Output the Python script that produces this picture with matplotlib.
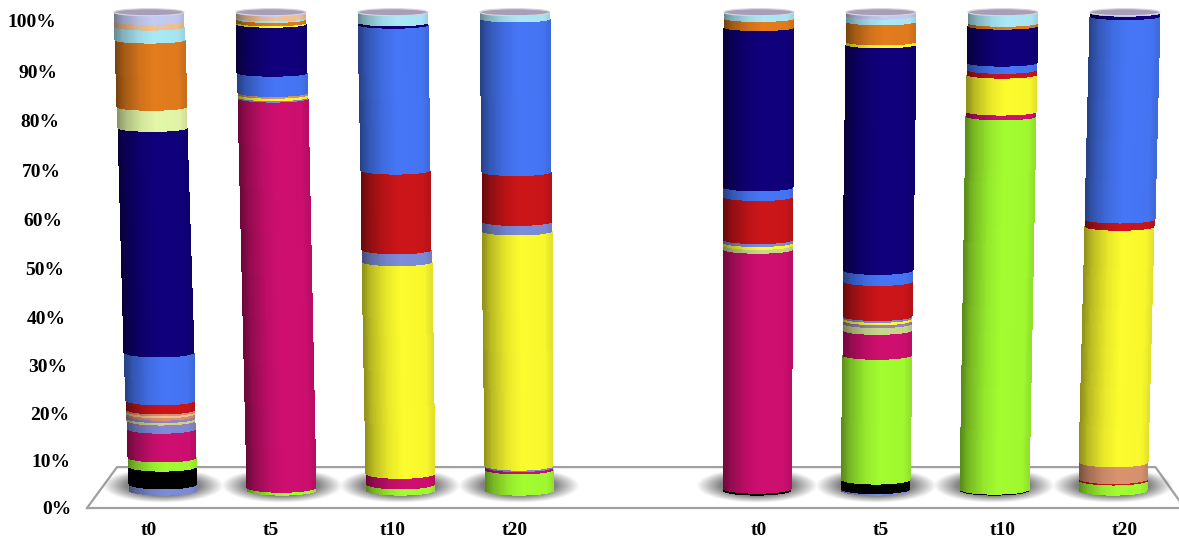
import numpy as np
import matplotlib
matplotlib.use('Agg')
import matplotlib.pyplot as plt
from matplotlib.colors import to_rgb
from matplotlib.patches import Ellipse
from matplotlib.transforms import Affine2D

# palette of the stacked layers
navy = '#10007c'
blue = '#4676f6'
red = '#cc1519'
yellow = '#fbfb2e'
magenta = '#cf0f70'
green = '#a2fc30'
orange = '#e27c1d'
pale = '#e4f6a8'
sky = '#aae8f6'
peach = '#f0c294'
lavender = '#c3cbf2'
peri = '#7d8cd9'
black = '#000000'
tan = '#d8936f'
purple = '#9a82c2'
olive = '#c9d98a'

positions = [0, 1, 2, 3, 5, 6, 7, 8]
bar_labels = ['t0', 't5', 't10', 't20', 't0', 't5', 't10', 't20']
y_ticks = [0, 10, 20, 30, 40, 50, 60, 70, 80, 90, 100]

# values in percent, bottom to top
a_t0_vals = [1.3, 3.7, 1.9, 6.0, 1.2, 0.5, 0.5, 0.5, 0.5, 0.4, 0.4, 1.9, 10.0, 47.0, 4.4, 14.0, 2.7, 1.2, 1.9]
a_t0_cols = [peri, black, green, magenta, peri, purple, olive, purple, tan, peach, tan, red, blue, navy, pale, orange, sky, peach, lavender]
a_t5_vals = [0.6, 81.3, 0.3, 0.5, 0.4, 4.2, 10.2, 0.3, 0.7, 0.3, 1.0, 0.2]
a_t5_cols = [green, magenta, peri, yellow, tan, blue, navy, yellow, orange, sky, peach, lavender]
a_t10_vals = [1.3, 2.2, 44.3, 2.5, 16.6, 30.4, 0.5, 2.2]
a_t10_cols = [green, magenta, yellow, peri, red, blue, navy, sky]
a_t20_vals = [4.4, 0.5, 0.3, 49.0, 2.0, 10.4, 32.0, 1.4]
a_t20_cols = [green, magenta, peri, yellow, peri, red, blue, sky]
b_t0_vals = [0.4, 50.0, 0.8, 0.6, 0.6, 9.0, 2.0, 33.4, 1.9, 1.3]
b_t0_cols = [black, magenta, olive, yellow, peri, red, blue, navy, orange, sky]
b_t5_vals = [0.3, 2.0, 26.0, 5.2, 1.4, 0.6, 0.5, 0.4, 7.3, 2.3, 47.2, 0.6, 4.2, 1.2, 0.8]
b_t5_cols = [peri, black, green, magenta, olive, purple, yellow, peri, red, blue, navy, yellow, orange, sky, lavender]
b_t10_vals = [0.2, 78.0, 1.0, 7.7, 1.0, 1.5, 7.7, 0.6, 2.3]
b_t10_cols = [black, green, magenta, yellow, red, blue, navy, orange, sky]
b_t20_vals = [2.1, 0.3, 3.5, 49.3, 1.5, 42.4, 0.7, 0.2]
b_t20_cols = [green, red, tan, yellow, red, blue, navy, lavender]

all_vals = [a_t0_vals, a_t5_vals, a_t10_vals, a_t20_vals, b_t0_vals, b_t5_vals, b_t10_vals, b_t20_vals]
all_cols = [a_t0_cols, a_t5_cols, a_t10_cols, a_t20_cols, b_t0_cols, b_t5_cols, b_t10_cols, b_t20_cols]

plt.rcParams['font.family'] = ['Liberation Serif', 'DejaVu Serif']

fig = plt.figure(figsize=(11.79, 5.39), dpi=100)
ax = fig.add_axes([87 / 1179, 1 - 508 / 539, 1092 / 1179, 506.5 / 539])

# fake 3d look: bars stand on a floor, lean to a vanishing point
base = 3.6
scale = 0.982
vanish = 4.35
lean = 0.0265
bar_w = 0.574
sag_bot = 1.05
sag_top = 0.72

u = np.linspace(-1, 1, 81)
um = (u[1:] + u[:-1]) / 2
shade = np.interp(um, [-1, -0.75, -0.3, 0.1, 0.8, 1], [0.42, 0.66, 0.9, 1.0, 0.98, 0.86])


def level(p, v):
    f = v / 100.0
    cx = p + (1 - f) * lean * (vanish - p)
    w = bar_w * (0.98 + 0.02 * f)
    y = base + v * scale
    sag = sag_bot + (sag_top - sag_bot) * f
    return cx + u * w / 2, y - sag * np.sqrt(1 - u ** 2)


def draw_bar(p, vals, cols):
    tops = np.cumsum(vals)
    bots = tops - np.array(vals)
    for v0, v1, c in zip(bots, tops, cols):
        x0, y0 = level(p, v0)
        x1, y1 = level(p, v1)
        rgb = np.array(to_rgb(c))
        # lighter colours lose less on the dark side
        s = shade + (1 - shade) * rgb.mean() * 0.35
        colors = (s[:, None] * rgb)[None, :, :]
        ax.pcolormesh(np.vstack([x0, x1]), np.vstack([y0, y1]), colors,
                      shading='flat', zorder=3, antialiased=False, linewidth=0)
    top = tops[-1]
    x1, y1 = level(p, top)
    sag = sag_bot + (sag_top - sag_bot) * top / 100.0
    cap = Ellipse(((x1[0] + x1[-1]) / 2, y1[0]), x1[-1] - x1[0], 2 * sag,
                  facecolor='#a99eb9', edgecolor='#d8d4dc', linewidth=0.8, zorder=4)
    ax.add_patch(cap)


def draw_shadow(p):
    xs = np.linspace(-1, 1, 120)
    ys = np.linspace(-1, 1, 60)
    xx, yy = np.meshgrid(xs, ys)
    r = np.sqrt(xx ** 2 + yy ** 2)
    img = np.zeros(xx.shape + (4,))
    img[..., :3] = 0.42
    img[..., 3] = np.clip((1 - r) / 0.4, 0, 1) * 0.85
    cx = p + 0.99 * lean * (vanish - p)
    ax.imshow(img, extent=[cx - 0.5, cx + 0.5, 1.0, 8.0], origin='lower',
              aspect='auto', zorder=2, interpolation='bilinear')


for p in positions:
    draw_shadow(p)
for p, vals, cols in zip(positions, all_vals, all_cols):
    draw_bar(p, vals, cols)

# floor outline
floor_col = '#a0a0a0'
ax.plot([-0.508, -0.262, 8.25, 8.443], [0, 8.4, 8.4, 1.6], color=floor_col, lw=1.6, zorder=1,
        clip_on=False)

ax.set_xlim(-0.508, 8.443)
ax.set_ylim(0, 104)
ax.set_xticks(positions)
ax.set_xticklabels(bar_labels, fontsize=14, fontweight='bold')
ax.set_yticks(y_ticks)
ax.set_yticklabels(['%d%%' % t for t in y_ticks], fontsize=14, fontweight='bold')
ax.tick_params(axis='both', length=0)
ax.tick_params(axis='x', pad=10)
ax.tick_params(axis='y', pad=0)

# the axis labels follow the tilted perspective of the picture
for t, lab in zip(y_ticks, ax.get_yticklabels()):
    shift = Affine2D().translate(-(15 + 0.16 * t), -0.16 * t * (100 - t) / 100)
    lab.set_transform(lab.get_transform() + shift)

for s in ['top', 'right', 'left']:
    ax.spines[s].set_visible(False)
ax.spines['bottom'].set_color(floor_col)
ax.spines['bottom'].set_linewidth(1.6)

fig.savefig('out.png', dpi=100)
